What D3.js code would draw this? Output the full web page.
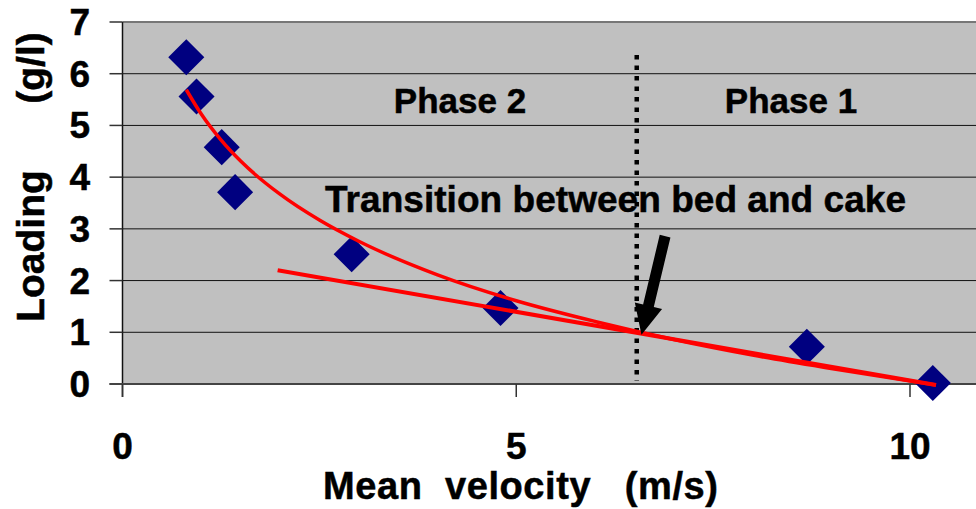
<!DOCTYPE html>
<html>
<head>
<meta charset="utf-8">
<script src="https://cdn.jsdelivr.net/npm/d3@7"></script>
<style>
  body { margin: 0; background: #fff; }
  text { font-family: "Liberation Sans", Arial, sans-serif; font-weight: bold; fill: #000; stroke: #000; stroke-width: 0.5px; }
</style>
</head>
<body>
<div id="chart"></div>
<script>
// measured points
const velocity = [0.81, 0.94, 1.26, 1.43, 2.91, 4.80, 8.69, 10.29];
const loading = [6.32, 5.56, 4.58, 3.71, 2.51, 1.47, 0.72, 0.02];

// trend curve
const curveV = [0.81, 1.0, 1.25, 1.5, 2.0, 2.5, 3.0, 4.0, 5.0, 6.0, 7.0, 8.0, 9.0, 10.33];
const curveL = [5.69, 5.22, 4.72, 4.31, 3.67, 3.17, 2.76, 2.11, 1.61, 1.21, 0.86, 0.56, 0.30, -0.02];

// straight red line
const lineV = [1.97, 10.33];
const lineL = [2.20, -0.02];

const xTicks = [0, 5, 10];
const yTicks = [0, 1, 2, 3, 4, 5, 6, 7];

// transition marker
const transitionV = 6.53;
const transitionTop = 6.36, transitionBottom = 0.06;
const arrowFrom = [6.89, 2.86], arrowTo = [6.59, 0.95];

const width = 976, height = 509;
let svg = d3.select("#chart").append("svg")
    .attr("width", width)
    .attr("height", height);

let x = d3.scaleLinear().domain([0, 10]).range([122.5, 910]);
let y = d3.scaleLinear().domain([0, 7]).range([384, 22]);

// plot background
svg.append("rect")
    .attr("x", x(0)).attr("y", y(7))
    .attr("width", width - x(0)).attr("height", y(0) - y(7))
    .attr("fill", "#c0c0c0");

// gridlines
svg.selectAll(".grid")
    .data(yTicks.filter(d => d > 0 && d < 7))
    .enter()
    .append("line")
    .attr("x1", x(0)).attr("x2", width)
    .attr("y1", d => y(d)).attr("y2", d => y(d))
    .attr("stroke", "#111").attr("stroke-width", 1);

// top border
svg.append("line")
    .attr("x1", x(0)).attr("x2", width)
    .attr("y1", y(7)).attr("y2", y(7))
    .attr("stroke", "#777").attr("stroke-width", 2);

// y axis
svg.append("line")
    .attr("x1", x(0)).attr("x2", x(0))
    .attr("y1", y(7)).attr("y2", y(0) + 13)
    .attr("stroke", "#111").attr("stroke-width", 1.5);
svg.selectAll(".ytick")
    .data(yTicks)
    .enter()
    .append("line")
    .attr("x1", x(0) - 13).attr("x2", x(0))
    .attr("y1", d => y(d)).attr("y2", d => y(d))
    .attr("stroke", "#333").attr("stroke-width", 1.5);
svg.selectAll(".ylabel")
    .data(yTicks)
    .enter()
    .append("text")
    .attr("x", 90)
    .attr("y", d => y(d) + 13)
    .attr("text-anchor", "end")
    .attr("font-size", 37)
    .text(d => d);

// x axis
svg.append("line")
    .attr("x1", x(0) - 13).attr("x2", width)
    .attr("y1", y(0)).attr("y2", y(0))
    .attr("stroke", "#444").attr("stroke-width", 2);
svg.selectAll(".xtick")
    .data(xTicks)
    .enter()
    .append("line")
    .attr("x1", d => x(d)).attr("x2", d => x(d))
    .attr("y1", y(0)).attr("y2", y(0) + 13)
    .attr("stroke", "#333").attr("stroke-width", 1.5);
svg.selectAll(".xlabel")
    .data(xTicks)
    .enter()
    .append("text")
    .attr("x", d => x(d))
    .attr("y", 459)
    .attr("text-anchor", "middle")
    .attr("font-size", 37)
    .text(d => d);

// axis titles
svg.append("text")
    .attr("x", 323).attr("y", 499)
    .attr("font-size", 38)
    .attr("textLength", 395)
    .attr("lengthAdjust", "spacing")
    .style("white-space", "pre")
    .text("Mean  velocity   (m/s)");

svg.append("text")
    .attr("transform", "translate(44,246) rotate(-90)")
    .attr("text-anchor", "middle")
    .attr("font-size", 39)
    .text("Loading");
svg.append("text")
    .attr("transform", "translate(44,68) rotate(-90)")
    .attr("text-anchor", "middle")
    .attr("font-size", 39)
    .text("(g/l)");

// annotations
svg.append("text")
    .attr("x", 460).attr("y", 113)
    .attr("text-anchor", "middle")
    .attr("font-size", 35)
    .text("Phase 2");
svg.append("text")
    .attr("x", 791).attr("y", 113)
    .attr("text-anchor", "middle")
    .attr("font-size", 35)
    .text("Phase 1");
svg.append("text")
    .attr("x", 325).attr("y", 212)
    .attr("font-size", 37)
    .attr("textLength", 581)
    .attr("lengthAdjust", "spacing")
    .text("Transition between bed and cake");

// dotted transition line
svg.append("line")
    .attr("x1", x(transitionV)).attr("x2", x(transitionV))
    .attr("y1", y(transitionTop)).attr("y2", y(transitionBottom))
    .attr("stroke", "#000").attr("stroke-width", 4.5)
    .attr("stroke-dasharray", "4.5,6");

// points
let pts = velocity.map((v, i) => ({ v: v, l: loading[i] }));
svg.selectAll(".pt")
    .data(pts)
    .enter()
    .append("path")
    .attr("d", d3.symbol().type(d3.symbolSquare).size(650))
    .attr("transform", d => `translate(${x(d.v)},${y(d.l)}) rotate(45)`)
    .attr("fill", "#000080");

// red trend lines
let lineGen = d3.line().x(d => x(d[0])).y(d => y(d[1]));
svg.append("path")
    .datum(lineV.map((v, i) => [v, lineL[i]]))
    .attr("d", lineGen)
    .attr("fill", "none").attr("stroke", "#ff0000").attr("stroke-width", 4);
svg.append("path")
    .datum(curveV.map((v, i) => [v, curveL[i]]))
    .attr("d", lineGen.curve(d3.curveMonotoneX))
    .attr("fill", "none").attr("stroke", "#ff0000").attr("stroke-width", 3.5);

// arrow
let ax0 = x(arrowFrom[0]), ay0 = y(arrowFrom[1]);
let ax1 = x(arrowTo[0]), ay1 = y(arrowTo[1]);
let len = Math.hypot(ax1 - ax0, ay1 - ay0);
let ux = (ax1 - ax0) / len, uy = (ay1 - ay0) / len;
let px = -uy, py = ux;
let headLen = 30, headW = 14, shaftW = 5.5;
let bx = ax1 - ux * headLen, by = ay1 - uy * headLen;
let arrowPts = [
    [ax0 + px * shaftW, ay0 + py * shaftW],
    [bx + px * shaftW, by + py * shaftW],
    [bx + px * headW, by + py * headW],
    [ax1, ay1],
    [bx - px * headW, by - py * headW],
    [bx - px * shaftW, by - py * shaftW],
    [ax0 - px * shaftW, ay0 - py * shaftW]
];
svg.append("polygon")
    .attr("points", arrowPts.map(p => p.join(",")).join(" "))
    .attr("fill", "#000");
</script>
</body>
</html>
